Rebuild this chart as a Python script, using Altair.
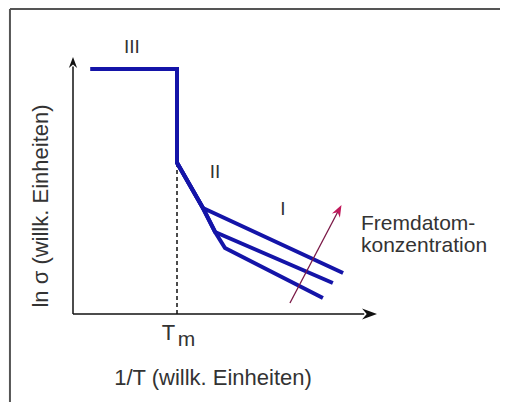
import altair as alt
import pandas as pd

# ---- schematic data (abstract units: 1/T on x, ln sigma on y) ----
x_high = [0.55, 3.25, 3.25, 4.06, 8.44]
y_high = [9.8, 9.8, 6.05, 4.24, 1.64]
x_mid = [0.55, 3.25, 3.25, 4.06, 4.44, 8.12]
y_mid = [9.8, 9.8, 6.05, 4.24, 3.28, 1.24]
x_low = [0.55, 3.25, 3.25, 4.06, 4.44, 4.75, 7.81]
y_low = [9.8, 9.8, 6.05, 4.24, 3.28, 2.64, 0.64]

tm_x = 3.25
tm_y_top = 6.05

axis_x_end = 9.1
axis_y_end = 9.9
axis_x_tip = 9.5
axis_y_tip = 10.28

conc_arrow_start = (6.78, 0.44)
conc_arrow_end = (8.28, 4.10)
conc_arrow_tip = (8.39, 4.36)

region_labels = ["III", "II", "I"]
region_x = [1.84, 4.44, 6.56]
region_y = [10.44, 5.44, 3.96]

conc_lines = ["Fremdatom-", "konzentration"]
conc_x = [9.0, 9.0]
conc_y = [3.36, 2.48]

xlabel = "1/T (willk. Einheiten)"
ylabel = "ln σ (willk. Einheiten)"

W, H = 492, 394
XD = [-2.03125, -2.03125 + W / 32]
YD = [12.24 - H / 25, 12.24]
xs = alt.Scale(domain=XD, nice=False, zero=False)
ys = alt.Scale(domain=YD, nice=False, zero=False)

rows = []
for name, xv, yv in [("hoch", x_high, y_high), ("mittel", x_mid, y_mid), ("niedrig", x_low, y_low)]:
    for i, (a, b) in enumerate(zip(xv, yv)):
        rows.append({"serie": name, "x": a, "y": b, "o": i})
lines_df = pd.DataFrame(rows)

FONT = "Liberation Sans"
TXT = "#333333"
BLUE = "#1414a8"

def X(f="x"):
    return alt.X(f + ":Q", scale=xs, axis=None)

def Y(f="y"):
    return alt.Y(f + ":Q", scale=ys, axis=None)

frame_df = pd.DataFrame({"x": [-1.97, -1.97], "x2": [-1.97, XD[1]], "y": [YD[0], 12.2], "y2": [12.2, 12.2]})
frame = alt.Chart(frame_df).mark_rule(color="#555555", strokeWidth=2).encode(
    x=X(), x2="x2:Q", y=Y(), y2="y2:Q"
)

dashed = alt.Chart(pd.DataFrame({"x": [tm_x], "y": [0.0], "y2": [tm_y_top]})).mark_rule(
    color="#111111", strokeWidth=1.5, strokeDash=[4, 3]
).encode(x=X(), y=Y(), y2="y2:Q")

axes_df = pd.DataFrame({"x": [0.0, 0.0], "y": [0.0, 0.0], "x2": [axis_x_end, 0.0], "y2": [0.0, axis_y_end]})
axes = alt.Chart(axes_df).mark_rule(color="#111111", strokeWidth=1.5).encode(
    x=X(), y=Y(), x2="x2:Q", y2="y2:Q"
)

HEAD = "M0,0 L-1.6,-0.6 L-1.1,0 L-1.6,0.6 Z"

head_x = alt.Chart(pd.DataFrame({"x": [axis_x_tip], "y": [0.0]})).mark_point(
    shape=HEAD, filled=True, size=350, color="#111111", opacity=1, angle=0
).encode(x=X(), y=Y())
head_y = alt.Chart(pd.DataFrame({"x": [0.0], "y": [axis_y_tip]})).mark_point(
    shape=HEAD, filled=True, size=190, color="#111111", opacity=1, angle=270
).encode(x=X(), y=Y())

curves = alt.Chart(lines_df).mark_line(color=BLUE, strokeWidth=4, strokeJoin="miter").encode(
    x=X(), y=Y(), order="o:Q", detail="serie:N"
)

red_shaft = alt.Chart(pd.DataFrame({"x": [conc_arrow_start[0]], "y": [conc_arrow_start[1]],
                                    "x2": [conc_arrow_end[0]], "y2": [conc_arrow_end[1]]})).mark_rule(
    color="#7a1846", strokeWidth=1.3
).encode(x=X(), y=Y(), x2="x2:Q", y2="y2:Q")
red_head = alt.Chart(pd.DataFrame({"x": [conc_arrow_tip[0]], "y": [conc_arrow_tip[1]]})).mark_point(
    shape=HEAD, filled=True, size=225, color="#c0185a", opacity=1, angle=297.7
).encode(x=X(), y=Y())

regions = alt.Chart(pd.DataFrame({"t": region_labels, "x": region_x, "y": region_y})).mark_text(
    font=FONT, fontSize=19, color=TXT, align="center", baseline="alphabetic"
).encode(x=X(), y=Y(), text="t:N")

conc = alt.Chart(pd.DataFrame({"t": conc_lines, "x": conc_x, "y": conc_y})).mark_text(
    font=FONT, fontSize=21, color=TXT, align="left", baseline="alphabetic"
).encode(x=X(), y=Y(), text="t:N")

t_main = alt.Chart(pd.DataFrame({"t": ["T"], "x": [2.98], "y": [-1.04]})).mark_text(
    font=FONT, fontSize=22, color=TXT, align="center", baseline="alphabetic"
).encode(x=X(), y=Y(), text="t:N")
t_sub = alt.Chart(pd.DataFrame({"t": ["m"], "x": [3.55], "y": [-1.26]})).mark_text(
    font=FONT, fontSize=21, color=TXT, align="center", baseline="alphabetic"
).encode(x=X(), y=Y(), text="t:N")

xlab = alt.Chart(pd.DataFrame({"t": [xlabel], "x": [4.375], "y": [-2.84]})).mark_text(
    font=FONT, fontSize=22, color=TXT, align="center", baseline="alphabetic"
).encode(x=X(), y=Y(), text="t:N")
ylab = alt.Chart(pd.DataFrame({"t": [ylabel], "x": [-1.0], "y": [4.32]})).mark_text(
    font=FONT, fontSize=22, color=TXT, align="center", baseline="middle", angle=270
).encode(x=X(), y=Y(), text="t:N")

chart = alt.layer(
    frame, dashed, axes, head_x, head_y, curves, red_shaft, red_head,
    regions, conc, t_main, t_sub, xlab, ylab
).properties(
    width=W, height=H, padding=0, autosize=alt.AutoSizeParams(type="none"),
    background="white"
).configure_view(stroke=None)

chart.save("out.html", embed_options={"renderer": "svg", "actions": False})
